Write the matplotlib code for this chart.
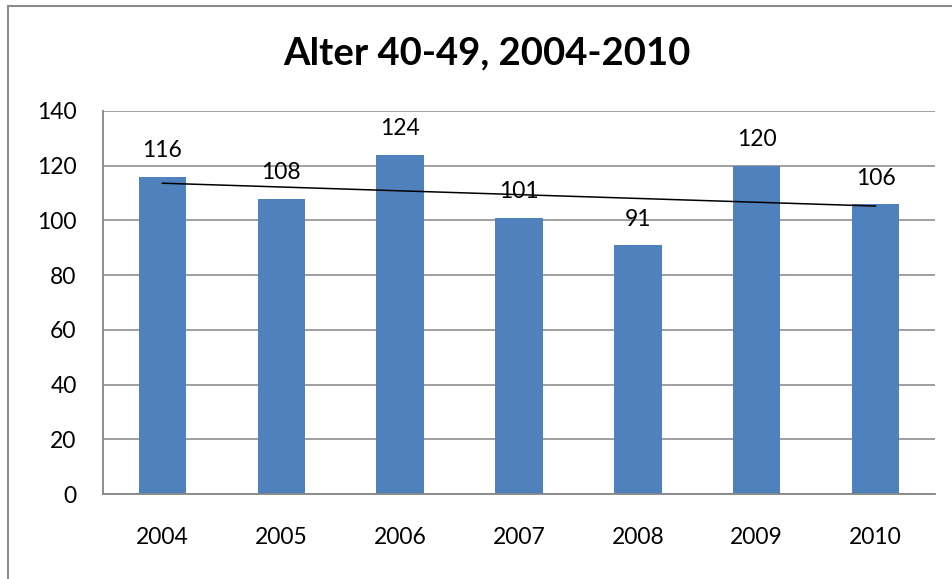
import numpy as np
import matplotlib
matplotlib.use("Agg")
import matplotlib.pyplot as plt
from matplotlib.lines import Line2D

plt.rcParams['font.family'] = ['Lato', 'DejaVu Sans']

years = ['2004', '2005', '2006', '2007', '2008', '2009', '2010']
counts = [116, 108, 124, 101, 91, 120, 106]
yticks = [0, 20, 40, 60, 80, 100, 120, 140]
title = 'Alter 40-49, 2004-2010'

bar_color = '#4F81BD'
grid_color = '#868686'

fig = plt.figure(figsize=(9.53, 5.79), dpi=100)
ax = fig.add_axes([0.1081, 0.1468, 0.8730, 0.6615])

x = np.arange(len(years))
ax.bar(x, counts, width=0.4, color=bar_color, zorder=2)

# linear trend over the series
k, d = np.polyfit(x, counts, 1)
ax.plot([x[0], x[-1]], [k * x[0] + d, k * x[-1] + d], color='black', lw=1.1, zorder=4)

for xi, v in zip(x, counts):
    ax.annotate(str(v), (xi, v), xytext=(0, 11), textcoords='offset points',
                ha='center', va='bottom', fontsize=16.5, zorder=5)

ax.set_xlim(-0.5, len(years) - 0.5)
ax.set_ylim(0, 140)
ax.set_yticks(yticks)
ax.set_xticks(x)
ax.set_xticklabels(years)
ax.yaxis.grid(True, color=grid_color, lw=1.1, zorder=0)
ax.tick_params(axis='both', length=0, labelsize=16.5)
ax.tick_params(axis='x', pad=24)
ax.tick_params(axis='y', pad=19)
for s in ['top', 'right']:
    ax.spines[s].set_visible(False)
for s in ['left', 'bottom']:
    ax.spines[s].set_color(grid_color)
    ax.spines[s].set_linewidth(1.3)

fig.text(0.511, 0.908, title, ha='center', va='center', fontsize=27.5, fontweight='bold')

# chart frame (left and top edges)
fig.add_artist(Line2D([8 / 953, 8 / 953], [0, 1 - 6 / 579], color='#8C8C8C', lw=1.5))
fig.add_artist(Line2D([8 / 953, 1], [1 - 6 / 579, 1 - 6 / 579], color='#8C8C8C', lw=1.5))

fig.savefig('out.png', dpi=100)
